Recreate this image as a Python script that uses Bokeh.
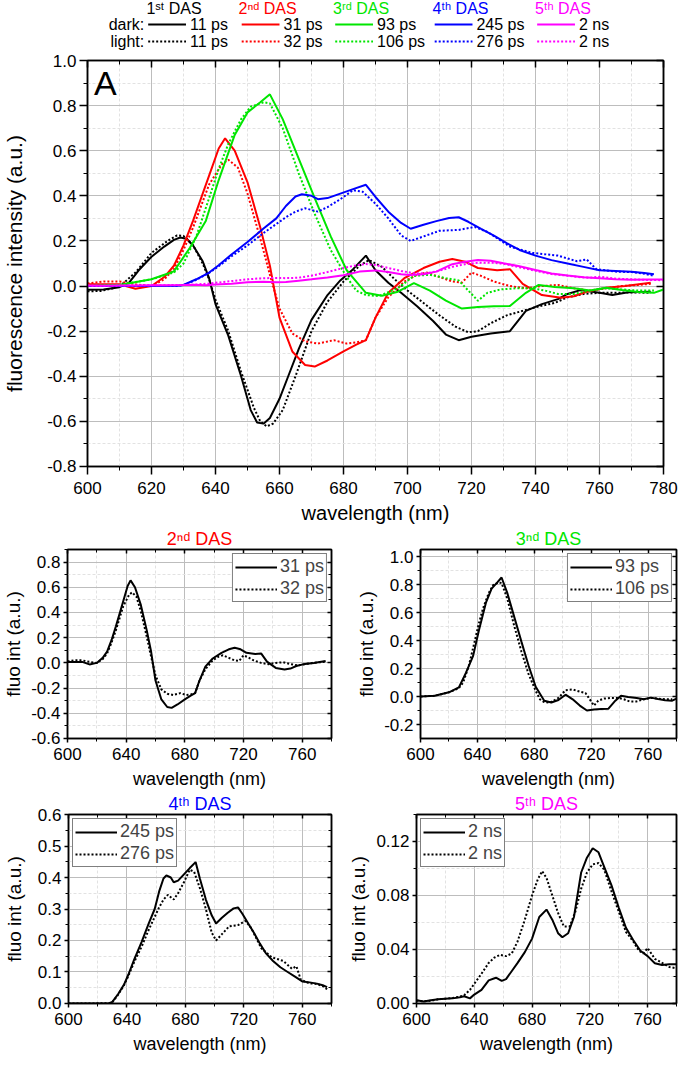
from bokeh.plotting import figure
from bokeh.layouts import column, row
from bokeh.models import (Range1d, LinearAxis, SingleIntervalTicker, NumeralTickFormatter,
                          CustomJSTickFormatter, Legend, LegendItem, Label)
from bokeh.core.properties import value
from bokeh.embed import file_html
from bokeh.resources import INLINE

FONT = "Liberation Sans"

# ---------------- data ----------------
# 1st DAS
wl_das1_dark = [600, 605, 610, 613, 616, 620, 624, 627, 629, 631, 633, 636, 638, 640, 644, 648, 651, 653, 655, 657,
                660, 663, 666, 670, 675, 679, 683, 687, 690, 694, 698, 703, 708, 712, 716, 720, 726, 732, 737, 742,
                747, 750, 754, 760, 764, 769, 776]
das1_dark = [-0.016, -0.015, -0.005, 0.015, 0.07, 0.13, 0.175, 0.205, 0.215, 0.21, 0.18, 0.11, 0.035, -0.08, -0.22,
             -0.4, -0.55, -0.605, -0.61, -0.585, -0.5, -0.39, -0.28, -0.15, -0.04, 0.025, 0.075, 0.135, 0.07, 0.015,
             -0.03, -0.09, -0.155, -0.215, -0.24, -0.225, -0.21, -0.2, -0.11, -0.08, -0.058, -0.035, -0.018, -0.03,
             -0.04, -0.027, -0.025]
wl_das1_light = [600, 604, 608, 611, 615, 620, 625, 628, 630, 633, 636, 638, 640, 644, 648, 652, 654, 656, 658, 661,
                 665, 670, 675, 680, 685, 688, 692, 696, 700, 705, 710, 715, 719, 722, 726, 731, 736, 741, 746, 750,
                 755, 760, 765, 770, 776]
das1_light = [-0.023, -0.022, -0.01, 0.01, 0.06, 0.147, 0.2, 0.225, 0.222, 0.18, 0.1, 0.03, -0.06, -0.2, -0.38,
              -0.54, -0.6, -0.622, -0.61, -0.55, -0.4, -0.2, -0.07, 0.02, 0.09, 0.115, 0.085, 0.03, -0.02, -0.075,
              -0.13, -0.18, -0.205, -0.2, -0.165, -0.13, -0.11, -0.09, -0.075, -0.05, -0.035, -0.03, -0.03, -0.028,
              -0.03]
# 2nd DAS
wl_das2_dark = [600, 610, 615, 620, 624, 627, 630, 633, 638, 641, 643, 646, 650, 654, 657, 660, 664, 668, 671, 675,
                680, 684, 687, 690, 694, 699, 705, 710, 714, 718, 722, 728, 732, 736, 742, 748, 752, 756, 762, 768,
                776]
das2_dark = [0.008, 0.008, -0.012, 0.0, 0.04, 0.09, 0.18, 0.29, 0.49, 0.61, 0.655, 0.6, 0.46, 0.26, 0.09, -0.14,
             -0.29, -0.35, -0.357, -0.33, -0.29, -0.26, -0.24, -0.14, -0.03, 0.035, 0.08, 0.108, 0.12, 0.108, 0.08,
             0.07, 0.075, 0.01, -0.04, -0.052, -0.045, -0.025, -0.008, 0.0, 0.015]
wl_das2_light = [600, 605, 610, 615, 620, 624, 627, 630, 633, 638, 642, 644, 647, 650, 654, 657, 660, 664, 668, 672,
                 677, 681, 684, 687, 690, 694, 699, 703, 706, 710, 714, 717, 720, 723, 727, 732, 737, 742, 747, 752,
                 757, 762, 767, 772, 776]
das2_light = [0.012, 0.02, 0.02, 0.008, 0.0, 0.03, 0.075, 0.16, 0.26, 0.45, 0.54, 0.56, 0.525, 0.41, 0.21, 0.05, -0.1,
              -0.21, -0.245, -0.255, -0.24, -0.255, -0.25, -0.24, -0.14, -0.05, 0.02, 0.05, 0.06, 0.04, 0.02, 0.015,
              0.06, 0.045, 0.02, 0.0, -0.01, 0.0, 0.005, -0.01, -0.02, -0.01, 0.0, 0.005, 0.01]
# 3rd DAS
wl_das3_dark = [600, 610, 620, 627, 632, 637, 641, 646, 650, 654, 657, 661, 666, 671, 676, 681, 684, 687, 692, 697,
                702, 707, 712, 717, 722, 727, 732, 737, 741, 746, 752, 757, 762, 767, 772, 777, 780]
das3_dark = [0.0, 0.005, 0.03, 0.065, 0.17, 0.29, 0.47, 0.67, 0.77, 0.815, 0.85, 0.74, 0.565, 0.39, 0.22, 0.07, 0.02,
             -0.03, -0.043, -0.025, 0.013, -0.02, -0.065, -0.1, -0.093, -0.09, -0.088, -0.03, 0.005, -0.004, -0.01,
             -0.02, -0.008, -0.018, -0.026, -0.03, -0.015]
wl_das3_light = [600, 610, 620, 627, 630, 634, 638, 641, 644, 648, 651, 655, 657, 661, 666, 671, 676, 681, 684, 687,
                 691, 697, 702, 707, 712, 716, 719, 722, 725, 729, 734, 739, 743, 747, 752, 757, 762, 767, 772, 777]
das3_light = [0.0, 0.005, 0.03, 0.06, 0.1, 0.22, 0.39, 0.52, 0.63, 0.74, 0.795, 0.815, 0.81, 0.7, 0.5, 0.32, 0.16,
              0.04, -0.02, -0.04, -0.044, -0.01, 0.045, 0.05, 0.035, 0.025, -0.02, -0.065, -0.03, -0.015, -0.01,
              -0.01, -0.02, -0.035, -0.035, -0.02, -0.01, -0.015, -0.02, -0.02]
# 4th DAS
wl_das4_dark = [600, 615, 628, 630, 634, 638, 641, 645, 650, 655, 659, 662, 665, 667, 670, 672, 675, 679, 683, 687,
                690, 694, 698, 701, 705, 709, 713, 716, 719, 723, 727, 731, 735, 740, 745, 750, 755, 760, 765, 770,
                774, 777]
das4_dark = [0.0, 0.0, 0.001, 0.005, 0.03, 0.06, 0.092, 0.14, 0.195, 0.255, 0.3, 0.355, 0.397, 0.407, 0.4, 0.385,
             0.39, 0.41, 0.43, 0.449, 0.395, 0.33, 0.28, 0.254, 0.272, 0.288, 0.302, 0.305, 0.285, 0.254, 0.224, 0.19,
             0.16, 0.135, 0.115, 0.1, 0.085, 0.07, 0.067, 0.063, 0.058, 0.052]
wl_das4_light = [600, 615, 628, 630, 634, 638, 641, 645, 650, 655, 659, 662, 665, 668, 672, 675, 679, 683, 686, 690,
                 694, 698, 701, 705, 710, 716, 721, 725, 732, 739, 747, 753, 756, 759, 765, 770, 774, 777]
das4_light = [0.0, 0.0, 0.001, 0.004, 0.028, 0.058, 0.088, 0.132, 0.18, 0.235, 0.275, 0.305, 0.33, 0.345, 0.33, 0.35,
              0.385, 0.425, 0.418, 0.365, 0.3, 0.225, 0.2, 0.22, 0.245, 0.249, 0.262, 0.24, 0.175, 0.147, 0.135,
              0.11, 0.118, 0.075, 0.064, 0.062, 0.055, 0.045]
# 5th DAS
wl_das5_dark = [600, 605, 610, 615, 620, 625, 630, 633, 637, 640, 645, 650, 655, 659, 662, 666, 670, 675, 680, 685,
                690, 694, 698, 701, 705, 709, 714, 718, 722, 726, 730, 735, 740, 745, 750, 755, 760, 765, 770, 775,
                780]
das5_dark = [0.0023, 0.0014, 0.0023, 0.003, 0.0035, 0.0037, 0.0046, 0.0053, 0.0037, 0.0065, 0.01, 0.017, 0.019,
             0.0167, 0.018, 0.024, 0.03, 0.038, 0.048, 0.064, 0.0695, 0.062, 0.052, 0.049, 0.052, 0.064, 0.097, 0.108,
             0.115, 0.112, 0.101, 0.0875, 0.071, 0.056, 0.047, 0.039, 0.035, 0.0297, 0.0285, 0.029, 0.029]
wl_das5_light = [600, 605, 610, 615, 620, 625, 630, 633, 637, 641, 645, 650, 654, 658, 662, 666, 670, 675, 680, 684,
                 687, 690, 694, 698, 702, 706, 710, 714, 718, 722, 726, 730, 735, 740, 745, 750, 754, 757, 760, 765,
                 770, 775, 780]
das5_light = [0.002, 0.0015, 0.002, 0.003, 0.0035, 0.004, 0.005, 0.006, 0.01, 0.016, 0.022, 0.03, 0.034, 0.036,
              0.035, 0.037, 0.046, 0.062, 0.08, 0.092, 0.098, 0.093, 0.08, 0.067, 0.057, 0.057, 0.068, 0.085, 0.097,
              0.103, 0.104, 0.099, 0.083, 0.068, 0.053, 0.046, 0.039, 0.037, 0.041, 0.033, 0.03, 0.027, 0.026]

das_titles = ["1ˢᵗ DAS", "2ⁿᵈ DAS", "3ʳᵈ DAS", "4ᵗʰ DAS", "5ᵗʰ DAS"]
dark_labels = ["11 ps", "31 ps", "93 ps", "245 ps", "2 ns"]
light_labels = ["11 ps", "32 ps", "106 ps", "276 ps", "2 ns"]
sub_titles = ["2ⁿᵈ DAS", "3ⁿᵈ DAS", "4ᵗʰ DAS", "5ᵗʰ DAS"]
das_colors = ["#000000", "#ff0000", "#00e600", "#0000ff", "#ff00ff"]

dark_wl = [wl_das1_dark, wl_das2_dark, wl_das3_dark, wl_das4_dark, wl_das5_dark]
dark_vals = [das1_dark, das2_dark, das3_dark, das4_dark, das5_dark]
light_wl = [wl_das1_light, wl_das2_light, wl_das3_light, wl_das4_light, wl_das5_light]
light_vals = [das1_light, das2_light, das3_light, das4_light, das5_light]

DOT = "2 2"


def empty_fmt():
    return CustomJSTickFormatter(code="return ''")


def style_fig(p, xint, yint, yfmt, tick_px, xlabel_px, ylabel_px, tick_out, ylabel, ylabel_standoff,
              xlabel_standoff, xtick_standoff, tick_in):
    p.xaxis.ticker = SingleIntervalTicker(interval=xint, num_minor_ticks=2)
    p.yaxis.ticker = SingleIntervalTicker(interval=yint, num_minor_ticks=2)
    p.yaxis.formatter = NumeralTickFormatter(format=yfmt)
    p.xaxis.formatter = NumeralTickFormatter(format="0")
    for ax, lp in ((p.xaxis[0], xlabel_px), (p.yaxis[0], ylabel_px)):
        ax.major_label_text_font = FONT
        ax.major_label_text_font_size = tick_px
        ax.major_label_text_color = "black"
        ax.axis_label_text_font = FONT
        ax.axis_label_text_font_size = lp
        ax.axis_label_text_font_style = "normal"
        ax.axis_label_text_color = "black"
        ax.axis_line_color = "black"
        ax.axis_line_width = 1.5
        ax.major_tick_line_color = "black"
        ax.minor_tick_line_color = "black"
        ax.major_tick_line_width = 1.5
        ax.major_tick_out = tick_out
        ax.major_tick_in = 0
        ax.minor_tick_out = max(tick_out // 2, 3)
        ax.minor_tick_in = 0
        ax.major_label_standoff = 3
    p.xaxis.major_label_standoff = xtick_standoff
    p.xaxis.axis_label = "wavelength (nm)"
    p.yaxis.axis_label = ylabel
    p.yaxis.axis_label_standoff = ylabel_standoff
    p.xaxis.axis_label_standoff = xlabel_standoff
    p.xgrid.grid_line_color = "#bdbdbd"
    p.ygrid.grid_line_color = "#bdbdbd"
    p.xgrid.minor_grid_line_color = "#e2e2e2"
    p.ygrid.minor_grid_line_color = "#e2e2e2"
    p.xgrid.minor_grid_line_dash = "3 2"
    p.ygrid.minor_grid_line_dash = "3 2"
    p.outline_line_color = "black"
    p.outline_line_width = 1.5
    p.background_fill_color = "white"
    p.border_fill_color = "white"
    # inner ticks on the right and top edges of the box
    for side, iv in (("right", yint), ("above", xint)):
        ax = LinearAxis(ticker=SingleIntervalTicker(interval=iv, num_minor_ticks=2), formatter=empty_fmt(),
                        major_tick_in=tick_in, major_tick_out=0, minor_tick_in=max(tick_in - 3, 3),
                        minor_tick_out=0, axis_line_color="black", axis_line_width=1.5,
                        major_tick_line_width=1.5, major_label_standoff=0)
        p.add_layout(ax, side)


# ---------------- main figure ----------------
MAIN_LEFT, MAIN_RIGHT, MAIN_W = 84, 18, 681
main = figure(width=MAIN_W, height=476, x_range=Range1d(600, 780), y_range=Range1d(-0.8001, 1.0001),
              toolbar_location=None, output_backend="svg",
              min_border_left=MAIN_LEFT, min_border_right=MAIN_RIGHT, min_border_top=10, min_border_bottom=50)
style_fig(main, 20, 0.2, "0.0", "17px", "20px", "21px", 8, "fluorescence intensity (a.u.)", 18, 5, 7, 7)
for i in range(5):
    main.line(dark_wl[i], dark_vals[i], line_color=das_colors[i], line_width=2)
    main.line(light_wl[i], light_vals[i], line_color=das_colors[i], line_width=2, line_dash=DOT)
main.add_layout(Label(x=602, y=0.985, text="A", text_font=FONT, text_font_size="34px",
                      text_baseline="top", text_align="left", text_color="black"))

# ---------------- legend header figure (its frame is aligned with the main frame) ----------------
legend_col_x = [145, 239, 333, 433, 536]
LH = 50
leg = figure(width=MAIN_W, height=LH, x_range=Range1d(MAIN_LEFT, MAIN_W - MAIN_RIGHT), y_range=Range1d(LH, 0),
             x_axis_type=None, y_axis_type=None, toolbar_location=None, output_backend="svg",
             min_border_left=MAIN_LEFT, min_border_right=MAIN_RIGHT, min_border_top=0, min_border_bottom=0,
             outline_line_color=None)
leg.xgrid.visible = False
leg.ygrid.visible = False
y_head, y_dark, y_light = 8, 24, 41
LFS = "16px"
leg.text(x=[x + 26 for x in legend_col_x], y=[y_head] * 5, text=das_titles, text_color=das_colors,
         text_align="center", text_baseline="middle", text_font=value(FONT), text_font_size=LFS)
leg.text(x=[141, 141], y=[y_dark, y_light], text=["dark:", "light:"], text_color="black",
         text_align="right", text_baseline="middle", text_font=value(FONT), text_font_size=LFS)
leg.segment(x0=legend_col_x, x1=[x + 38 for x in legend_col_x], y0=[y_dark] * 5, y1=[y_dark] * 5,
            line_color=das_colors, line_width=2)
leg.segment(x0=legend_col_x, x1=[x + 38 for x in legend_col_x], y0=[y_light] * 5, y1=[y_light] * 5,
            line_color=das_colors, line_width=2, line_dash=DOT)
leg.text(x=[x + 42 for x in legend_col_x], y=[y_dark] * 5, text=dark_labels, text_color="black",
         text_align="left", text_baseline="middle", text_font=value(FONT), text_font_size=LFS)
leg.text(x=[x + 42 for x in legend_col_x], y=[y_light] * 5, text=light_labels, text_color="black",
         text_align="left", text_baseline="middle", text_font=value(FONT), text_font_size=LFS)

# ---------------- sub figures ----------------
sub_specs = [
    # (das index, y range, y interval, y fmt, width, left border, right border, legend loc,
    #  ylabel standoff, title offset)
    (1, (-0.6001, 0.9), 0.2, "0.0", 345, 60, 14, "top_right", 4, -15),
    (2, (-0.3, 1.05), 0.2, "0.0", 336, 75, 5, "top_right", 4, -14),
    (3, (-0.0001, 0.6001), 0.1, "0.0", 345, 60, 14, "top_left", 10, -30),
    (4, (-0.0001, 0.14), 0.04, "0.00", 336, 69, 5, "top_left", 4, -17),
]
subs = []
for k, (i, yr, yint, yfmt, w, bl, br, loc, yls, toff) in enumerate(sub_specs):
    s = figure(width=w, height=265, x_range=Range1d(600, 780), y_range=Range1d(*yr),
               toolbar_location=None, output_backend="svg",
               min_border_left=bl, min_border_right=br, min_border_top=18, min_border_bottom=52)
    style_fig(s, 40, yint, yfmt, "17px", "18px", "19px", 4, "fluo int (a.u.)", yls, 6, 5, 4)
    s.title.text = sub_titles[k]
    s.title.align = "center"
    s.title.offset = toff
    s.title.text_color = das_colors[i]
    s.title.text_font = FONT
    s.title.text_font_size = "18px"
    s.title.text_font_style = "normal"
    s.title.standoff = 1
    r1 = s.line(dark_wl[i], dark_vals[i], line_color="black", line_width=2)
    r2 = s.line(light_wl[i], light_vals[i], line_color="black", line_width=2, line_dash=DOT)
    lg = Legend(items=[LegendItem(label=dark_labels[i], renderers=[r1]),
                       LegendItem(label=light_labels[i], renderers=[r2])],
                location=loc, label_text_font=FONT, label_text_font_size="18px",
                glyph_width=42, glyph_height=20, label_height=20, spacing=1, padding=2, margin=4,
                label_standoff=3, border_line_color="black", border_line_width=1,
                background_fill_alpha=1.0)
    s.add_layout(lg)
    subs.append(s)

layout = column(leg, main, row(subs[0], subs[1]), row(subs[2], subs[3]))
open("out.html", "w").write(file_html(layout, INLINE))
